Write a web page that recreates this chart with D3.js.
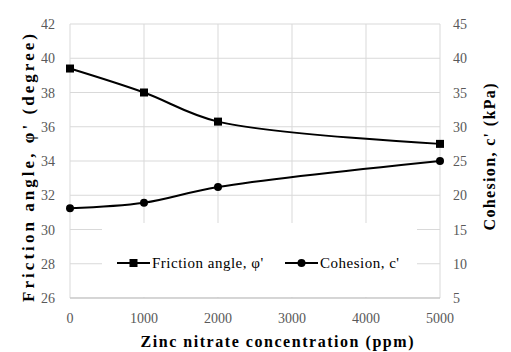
<!DOCTYPE html>
<html lang="en">
<head>
<meta charset="utf-8">
<script src="https://d3js.org/d3.v7.min.js"></script>
<style>
  body { margin: 0; background: #fff; }
  svg text { font-family: "Liberation Serif", "Times New Roman", serif; }
</style>
</head>
<body>
<script>
// chart data
var concentration = [0, 1000, 2000, 5000];
var frictionAngle = [39.4, 38.0, 36.3, 35.0];
var cohesion = [18.1, 18.9, 21.2, 25.0];
var xTicks = [0, 1000, 2000, 3000, 4000, 5000];
var leftTicks = [26, 28, 30, 32, 34, 36, 38, 40, 42];
var rightTicks = [5, 10, 15, 20, 25, 30, 35, 40, 45];

var width = 511, height = 352;
var pLeft = 70, pRight = 440, pTop = 24, pBottom = 298;

var svg = d3.select("body").append("svg")
    .attr("width", width)
    .attr("height", height);

var x = d3.scaleLinear().domain([0, 5000]).range([pLeft, pRight]);
var yL = d3.scaleLinear().domain([26, 42]).range([pBottom, pTop]);
var yR = d3.scaleLinear().domain([5, 45]).range([pBottom, pTop]);

// gridlines
svg.append("g")
    .selectAll("line")
    .data(leftTicks)
    .enter().append("line")
    .attr("x1", pLeft).attr("x2", pRight)
    .attr("y1", function(d) { return yL(d); })
    .attr("y2", function(d) { return yL(d); })
    .attr("stroke", "#d9d9d9").attr("stroke-width", 1);
svg.append("g")
    .selectAll("line")
    .data(xTicks)
    .enter().append("line")
    .attr("x1", function(d) { return x(d); })
    .attr("x2", function(d) { return x(d); })
    .attr("y1", pTop).attr("y2", pBottom)
    .attr("stroke", "#d9d9d9").attr("stroke-width", 1);

// legend box covers grid
svg.append("rect")
    .attr("x", 102).attr("y", 223)
    .attr("width", 315).attr("height", 74)
    .attr("fill", "#fff");

// axis line
svg.append("line")
    .attr("x1", pLeft).attr("x2", pRight)
    .attr("y1", pBottom).attr("y2", pBottom)
    .attr("stroke", "#bfbfbf");

// tick labels
var tickColor = "#595959";
svg.append("g")
    .selectAll("text")
    .data(leftTicks)
    .enter().append("text")
    .attr("x", 55)
    .attr("y", function(d) { return yL(d) + 5; })
    .attr("text-anchor", "end")
    .attr("font-size", 14)
    .attr("fill", tickColor)
    .text(function(d) { return d; });
svg.append("g")
    .selectAll("text")
    .data(rightTicks)
    .enter().append("text")
    .attr("x", 453)
    .attr("y", function(d) { return yR(d) + 5; })
    .attr("text-anchor", "start")
    .attr("font-size", 14)
    .attr("fill", tickColor)
    .text(function(d) { return d; });
svg.append("g")
    .selectAll("text")
    .data(xTicks)
    .enter().append("text")
    .attr("x", function(d) { return x(d); })
    .attr("y", 323)
    .attr("text-anchor", "middle")
    .attr("font-size", 14)
    .attr("fill", tickColor)
    .text(function(d) { return d; });

// axis titles
svg.append("text")
    .attr("x", 277).attr("y", 347)
    .attr("text-anchor", "middle")
    .attr("font-size", 16)
    .attr("font-weight", "bold")
    .attr("textLength", 273)
    .attr("lengthAdjust", "spacing")
    .text("Zinc nitrate concentration (ppm)");
svg.append("text")
    .attr("transform", "translate(34,168) rotate(-90)")
    .attr("text-anchor", "middle")
    .attr("font-size", 17)
    .attr("font-weight", "bold")
    .attr("textLength", 268)
    .attr("lengthAdjust", "spacing")
    .text("Friction angle, φ' (degree)");
svg.append("text")
    .attr("transform", "translate(495,157) rotate(-90)")
    .attr("text-anchor", "middle")
    .attr("font-size", 16)
    .attr("font-weight", "bold")
    .attr("textLength", 147)
    .attr("lengthAdjust", "spacing")
    .text("Cohesion, c' (kPa)");

// series
var curve = d3.curveCatmullRom.alpha(0.5);
var frictionLine = d3.line()
    .x(function(d, i) { return x(concentration[i]); })
    .y(function(d) { return yL(d); })
    .curve(curve);
var cohesionLine = d3.line()
    .x(function(d, i) { return x(concentration[i]); })
    .y(function(d) { return yR(d); })
    .curve(curve);

svg.append("path")
    .attr("d", frictionLine(frictionAngle))
    .attr("fill", "none").attr("stroke", "#000").attr("stroke-width", 2);
svg.append("path")
    .attr("d", cohesionLine(cohesion))
    .attr("fill", "none").attr("stroke", "#000").attr("stroke-width", 2);

svg.append("g")
    .selectAll("rect")
    .data(frictionAngle)
    .enter().append("rect")
    .attr("x", function(d, i) { return x(concentration[i]) - 4; })
    .attr("y", function(d) { return yL(d) - 4; })
    .attr("width", 8).attr("height", 8)
    .attr("fill", "#000");
svg.append("g")
    .selectAll("circle")
    .data(cohesion)
    .enter().append("circle")
    .attr("cx", function(d, i) { return x(concentration[i]); })
    .attr("cy", function(d) { return yR(d); })
    .attr("r", 4)
    .attr("fill", "#000");

// legend
var legend = [
  { name: "Friction angle, φ'", x: 117, marker: "square" },
  { name: "Cohesion, c'", x: 285, marker: "circle" }
];
var ly = 263;
legend.forEach(function(l) {
  var g = svg.append("g");
  g.append("line")
    .attr("x1", l.x).attr("x2", l.x + 33)
    .attr("y1", ly).attr("y2", ly)
    .attr("stroke", "#000").attr("stroke-width", 2);
  if (l.marker === "square") {
    g.append("rect")
      .attr("x", l.x + 16.5 - 4).attr("y", ly - 4)
      .attr("width", 8).attr("height", 8).attr("fill", "#000");
  } else {
    g.append("circle")
      .attr("cx", l.x + 16.5).attr("cy", ly).attr("r", 4).attr("fill", "#000");
  }
  g.append("text")
    .attr("x", l.x + 35).attr("y", ly + 5)
    .attr("font-size", 15)
    .attr("letter-spacing", 0.5)
    .attr("fill", "#000")
    .text(l.name);
});
</script>
</body>
</html>
